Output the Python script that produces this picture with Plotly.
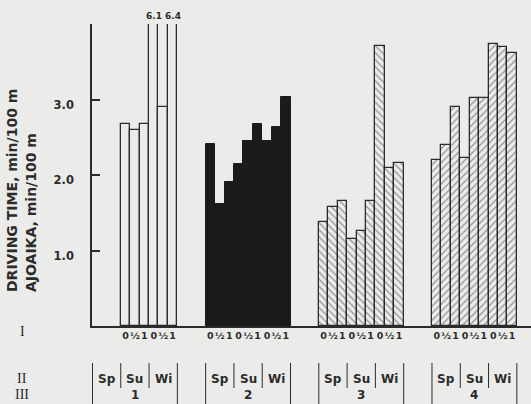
import plotly.graph_objects as go

# ---- data ----
groups = ["1", "2", "3", "4"]
seasons = ["Sp", "Su", "Wi"]
levels = ["0", "½", "1"]
# driving time, min/100 m (Sp, Su, Wi x 0, 1/2, 1); None = no data
g1_vals = [None, None, None, 2.67, 2.60, 2.68, 6.1, 2.9, 6.4]
g2_vals = [2.41, 1.61, 1.91, 2.15, 2.45, 2.67, 2.45, 2.64, 3.03]
g3_vals = [1.38, 1.57, 1.66, 1.15, 1.26, 1.66, 3.71, 2.09, 2.16]
g4_vals = [2.20, 2.40, 2.90, 2.22, 3.02, 3.02, 3.73, 3.69, 3.61]
y_ticks = [1.0, 2.0, 3.0, 4.0]
y_tick_text = ["1.0", "2.0", "3.0", ""]
off_scale_labels = {6: "6.1", 8: "6.4"}  # group 1 bars above the axis top

BG = "#ebebe9"
INK = "#2b2b2b"
FONT = "DejaVu Sans"
SERIF = "Liberation Serif"

all_vals = [g1_vals, g2_vals, g3_vals, g4_vals]
STRIDE = 12  # 9 bars + gap
YMAX = 4.0
W, H = 531, 404
L, R, T, B = 92, 0, 24, 78
plot_h = H - T - B

def px_to_paper_y(py):
    return (H - B - py) / plot_h

def bfont(size, family=FONT, weight="bold"):
    return dict(family=family, size=size, color=INK, weight=weight)

styles = [
    dict(color=BG, line=dict(color=INK, width=1.3)),
    dict(color="#1b1b1b", line=dict(color="#1b1b1b", width=1)),
    dict(color=BG, line=dict(color=INK, width=1.3),
         pattern=dict(shape="\\", fgcolor="#444444", bgcolor=BG, size=5, solidity=0.28)),
    dict(color=BG, line=dict(color=INK, width=1.3),
         pattern=dict(shape="/", fgcolor="#444444", bgcolor=BG, size=5, solidity=0.28)),
]

fig = go.Figure()
tickvals, ticktext = [], []
for gi, vals in enumerate(all_vals):
    xs = [gi * STRIDE + p for p in range(len(vals))]
    fig.add_trace(go.Bar(x=xs, y=vals, width=1.0, marker=styles[gi],
                         showlegend=False, hoverinfo="skip"))
    for p, v in enumerate(vals):
        if v is not None:
            tickvals.append(xs[p])
            ticktext.append(levels[p % 3])

annotations = []

def add_text(x, py, text, font, xref="x"):
    annotations.append(dict(x=x, y=px_to_paper_y(py), xref=xref, yref="paper",
                            text=text, showarrow=False, font=font,
                            xanchor="center", yanchor="middle"))

for p, txt in off_scale_labels.items():
    add_text(p, 16, txt, bfont(9))

shapes = []
for gi, g in enumerate(groups):
    base = gi * STRIDE
    bounds = [base - 0.5, base + 2.5, base + 5.5, base + 8.5]
    for k, xb in enumerate(bounds):
        outer = k in (0, 3)
        shapes.append(dict(type="line", xref="x", yref="paper",
                           x0=xb, x1=xb, y0=px_to_paper_y(363),
                           y1=px_to_paper_y(404 if outer else 388),
                           line=dict(color=INK, width=1)))
    for si, s in enumerate(seasons):
        add_text(base + si * 3 + 1, 379, s, bfont(12))
    add_text(base + 4, 395, g, bfont(12))

for txt, py in [("I", 331), ("II", 379), ("III", 394)]:
    add_text((22 - L) / (W - L - R), py, txt, bfont(14, SERIF, "normal"), xref="paper")

for txt, px in [("DRIVING TIME, min/100 m", 11.5), ("AJOAIKA, min/100 m", 30.5)]:
    annotations.append(dict(x=(px - L) / (W - L - R), y=px_to_paper_y(294),
                            xref="paper", yref="paper", text=txt, textangle=-90,
                            xanchor="center", yanchor="bottom", showarrow=False,
                            font=bfont(14)))

fig.update_layout(
    width=W, height=H,
    margin=dict(l=L, r=R, t=T, b=B, pad=0, autoexpand=False),
    paper_bgcolor=BG, plot_bgcolor=BG,
    bargap=0, barmode="overlay",
    font=dict(family=FONT, color=INK),
    annotations=annotations, shapes=shapes,
    xaxis=dict(range=[-0.55, 46.0], tickvals=tickvals, ticktext=ticktext,
               tickangle=0, automargin=False,
               showgrid=False, zeroline=False, showline=True, linecolor=INK,
               linewidth=2, ticks="", tickfont=bfont(9.5)),
    yaxis=dict(range=[0, YMAX], tickvals=y_ticks, ticktext=y_tick_text,
               automargin=False,
               showgrid=False, zeroline=False, showline=True, linecolor=INK,
               linewidth=1.5, ticks="inside", ticklen=8, tickwidth=1.5, tickcolor=INK,
               ticklabelstandoff=14, ticklabelshift=5,
               tickfont=bfont(11.5)),
)

fig.write_html("out.html",
               config={"displayModeBar": False},
               post_script="document.body.style.margin='0';"
                           "document.body.style.background='%s';" % BG)
